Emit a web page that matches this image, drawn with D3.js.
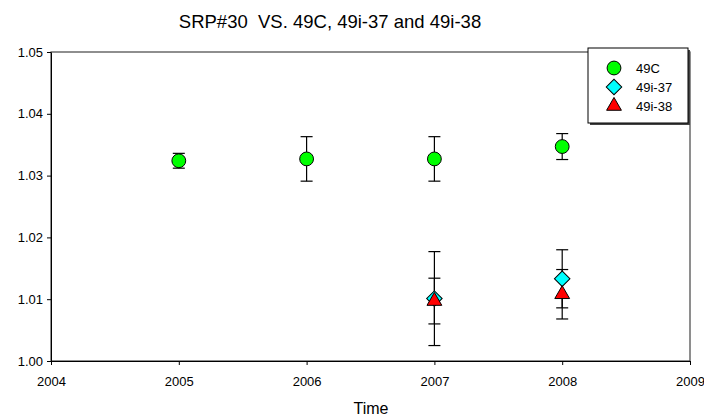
<!DOCTYPE html>
<html>
<head>
<meta charset="utf-8">
<script src="https://cdn.jsdelivr.net/npm/d3@7"></script>
<style>
  body { margin: 0; background: #fff; }
  text { font-family: "Liberation Sans", Arial, sans-serif; fill: #000; }
</style>
</head>
<body>
<div id="chart"></div>
<script>
// data
var years = [2005, 2006, 2007, 2008];
var c49 = [1.0324, 1.0327, 1.0327, 1.0347];
var c49Err = [0.0012, 0.0036, 0.0036, 0.0021];
var i37Years = [2007, 2008];
var i37 = [1.0101, 1.0133];
var i37Err = [0.0076, 0.0047];
var i38Years = [2007, 2008];
var i38 = [1.0097, 1.0108];
var i38Err = [0.0037, 0.0040];
var xTicks = [2004, 2005, 2006, 2007, 2008, 2009];
var yTicks = [1.00, 1.01, 1.02, 1.03, 1.04, 1.05];

var width = 704, height = 416;
var margin = {left: 51, right: 14, top: 52, bottom: 55};

var svg = d3.select("#chart").append("svg")
  .attr("width", width)
  .attr("height", height);

var x = d3.scaleLinear().domain([2004, 2009]).range([margin.left, width - margin.right]);
var y = d3.scaleLinear().domain([1.00, 1.05]).range([height - margin.bottom, margin.top]);

// frame
svg.append("rect")
  .attr("x", x(2004)).attr("y", y(1.05))
  .attr("width", x(2009) - x(2004)).attr("height", y(1.00) - y(1.05))
  .attr("fill", "none").attr("stroke", "#444").attr("stroke-width", 1.2);

var xAxis = svg.append("g")
  .attr("transform", "translate(0," + y(1.00) + ")")
  .call(d3.axisBottom(x).tickValues(xTicks).tickFormat(d3.format("d")).tickSize(4).tickSizeOuter(0));
var yAxis = svg.append("g")
  .attr("transform", "translate(" + x(2004) + ",0)")
  .call(d3.axisLeft(y).tickValues(yTicks).tickFormat(d3.format(".2f")).tickSize(4).tickSizeOuter(0));

[xAxis, yAxis].forEach(function(a) {
  a.select(".domain").attr("stroke", "#000");
  a.selectAll(".tick line").attr("stroke", "#000");
  a.selectAll("text").attr("font-size", 13).attr("font-family", "Liberation Sans, Arial, sans-serif");
});
xAxis.selectAll("text").attr("dy", "1.35em");
yAxis.selectAll("text").attr("x", -8);

// titles
svg.append("text")
  .attr("x", 330).attr("y", 28)
  .attr("text-anchor", "middle").attr("font-size", 18.5)
  .style("white-space", "pre")
  .text("SRP#30  VS. 49C, 49i-37 and 49i-38");
svg.append("text")
  .attr("x", 371).attr("y", 414)
  .attr("text-anchor", "middle").attr("font-size", 16)
  .text("Time");

function errorBars(xs, vals, errs) {
  var g = svg.append("g").attr("stroke", "#000").attr("stroke-width", 1.2);
  xs.forEach(function(yr, i) {
    var cx = x(yr), lo = y(vals[i] - errs[i]), hi = y(vals[i] + errs[i]);
    g.append("line").attr("x1", cx).attr("x2", cx).attr("y1", lo).attr("y2", hi);
    g.append("line").attr("x1", cx - 6).attr("x2", cx + 6).attr("y1", lo).attr("y2", lo);
    g.append("line").attr("x1", cx - 6).attr("x2", cx + 6).attr("y1", hi).attr("y2", hi);
  });
}

errorBars(years, c49, c49Err);
errorBars(i37Years, i37, i37Err);
errorBars(i38Years, i38, i38Err);

var circleSym = d3.symbol().type(d3.symbolCircle).size(150);
var diamondSym = d3.symbol().type(d3.symbolSquare).size(120);
var triangleSym = d3.symbol().type(d3.symbolTriangle).size(95);

svg.append("g").selectAll("path")
  .data(years.map(function(d, i) { return [d, c49[i]]; }))
  .enter().append("path")
  .attr("d", circleSym)
  .attr("transform", function(d) { return "translate(" + x(d[0]) + "," + y(d[1]) + ")"; })
  .attr("fill", "#00ff00").attr("stroke", "#000").attr("stroke-width", 1);

svg.append("g").selectAll("path")
  .data(i37Years.map(function(d, i) { return [d, i37[i]]; }))
  .enter().append("path")
  .attr("d", diamondSym)
  .attr("transform", function(d) { return "translate(" + x(d[0]) + "," + y(d[1]) + ") rotate(45)"; })
  .attr("fill", "#00ffff").attr("stroke", "#000").attr("stroke-width", 1);

svg.append("g").selectAll("path")
  .data(i38Years.map(function(d, i) { return [d, i38[i]]; }))
  .enter().append("path")
  .attr("d", triangleSym)
  .attr("transform", function(d) { return "translate(" + x(d[0]) + "," + y(d[1]) + ")"; })
  .attr("fill", "#ff0000").attr("stroke", "#000").attr("stroke-width", 1);

// legend
var legend = svg.append("g");
legend.append("rect")
  .attr("x", 590).attr("y", 50).attr("width", 100).attr("height", 75)
  .attr("fill", "#444");
legend.append("rect")
  .attr("x", 588).attr("y", 48).attr("width", 100).attr("height", 75)
  .attr("fill", "#fff").attr("stroke", "#000").attr("stroke-width", 1);

var legendItems = [
  {name: "49C", sym: circleSym, fill: "#00ff00", rot: 0},
  {name: "49i-37", sym: diamondSym, fill: "#00ffff", rot: 45},
  {name: "49i-38", sym: triangleSym, fill: "#ff0000", rot: 0}
];
legendItems.forEach(function(d, i) {
  var ly = 68 + i * 19;
  legend.append("path")
    .attr("d", d.sym)
    .attr("transform", "translate(614," + ly + ") rotate(" + d.rot + ")")
    .attr("fill", d.fill).attr("stroke", "#000").attr("stroke-width", 1);
  legend.append("text")
    .attr("x", 636).attr("y", ly + 4.5)
    .attr("font-size", 13)
    .text(d.name);
});
</script>
</body>
</html>
